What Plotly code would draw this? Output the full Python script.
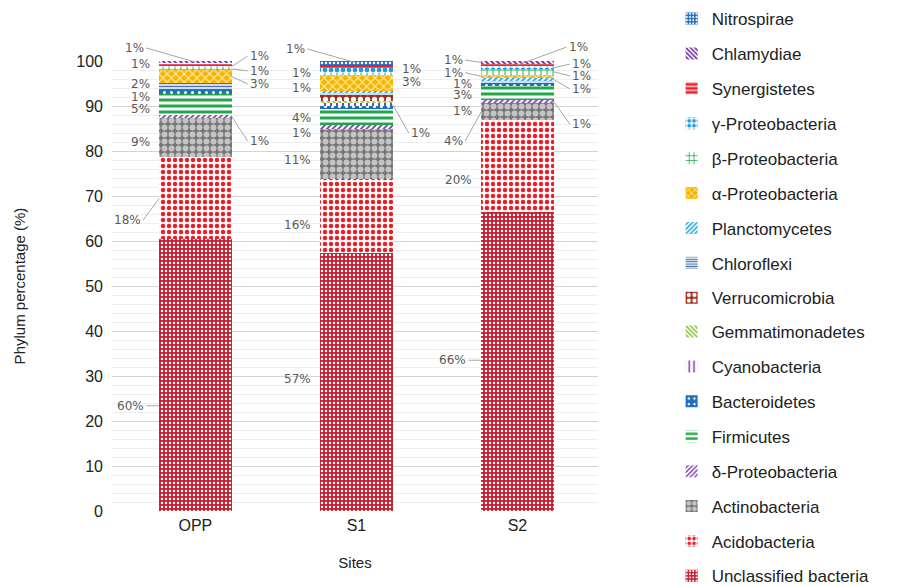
import math
import plotly.graph_objects as go

# ---------------- data (percent of reads per site) ----------------
SITES = ["OPP", "S1", "S2"]

UNCLASSIFIED = [60.4, 57.4, 66.4]
ACIDOBACTERIA = [18.2, 16.4, 20.4]
ACTINOBACTERIA = [8.8, 11.2, 3.8]
DELTA_PROTEO = [0.6, 0.7, 0.8]
FIRMICUTES = [4.6, 3.8, 3.1]
BACTEROIDETES = [1.0, 0.4, 0.6]
CYANOBACTERIA = [0.0, 0.9, 0.0]
GEMMATIMONADETES = [0.0, 0.4, 0.0]
VERRUCOMICROBIA = [0.0, 1.3, 0.0]
CHLOROFLEXI = [1.5, 0.45, 0.5]
PLANCTOMYCETES = [0.0, 0.45, 0.6]
ALPHA_PROTEO = [2.9, 3.4, 0.8]
BETA_PROTEO = [0.5, 0.45, 1.2]
GAMMA_PROTEO = [0.5, 1.1, 0.6]
SYNERGISTETES = [0.5, 0.8, 0.6]
CHLAMYDIAE = [0.5, 0.0, 0.6]
NITROSPIRAE = [0.0, 0.85, 0.0]

# stacking order, bottom -> top
PHYLA = [
    ("Unclassified bacteria", UNCLASSIFIED),
    ("Acidobacteria", ACIDOBACTERIA),
    ("Actinobacteria", ACTINOBACTERIA),
    ("δ-Proteobacteria", DELTA_PROTEO),
    ("Firmicutes", FIRMICUTES),
    ("Bacteroidetes", BACTEROIDETES),
    ("Cyanobacteria", CYANOBACTERIA),
    ("Gemmatimonadetes", GEMMATIMONADETES),
    ("Verrucomicrobia", VERRUCOMICROBIA),
    ("Chloroflexi", CHLOROFLEXI),
    ("Planctomycetes", PLANCTOMYCETES),
    ("α-Proteobacteria", ALPHA_PROTEO),
    ("β-Proteobacteria", BETA_PROTEO),
    ("γ-Proteobacteria", GAMMA_PROTEO),
    ("Synergistetes", SYNERGISTETES),
    ("Chlamydiae", CHLAMYDIAE),
    ("Nitrospirae", NITROSPIRAE),
]

# ---------------- styles ----------------
STYLE = {
    "Unclassified bacteria": dict(shape=".", bg="#c41a2b", fg="#ffffff", size=4, solidity=0.3),
    "Acidobacteria": dict(shape=".", bg="#ffffff", fg="#e8202a", size=6, solidity=0.45),
    "Actinobacteria": dict(shape=".", bg="#767676", fg="#c4c4c4", size=7, solidity=0.55),
    "δ-Proteobacteria": dict(shape="/", bg="#ffffff", fg="#7030a0", size=4, solidity=0.4),
    "Firmicutes": dict(shape="-", bg="#ffffff", fg="#1fa84a", size=6, solidity=0.5),
    "Bacteroidetes": dict(shape=".", bg="#1f6dbf", fg="#ffffff", size=7, solidity=0.15),
    "Cyanobacteria": dict(shape="|", bg="#ffffff", fg="#7030a0", size=6, solidity=0.3),
    "Gemmatimonadetes": dict(shape="\\", bg="#ffffff", fg="#8cc63f", size=4, solidity=0.5),
    "Verrucomicrobia": dict(shape=".", bg="#a52a1a", fg="#ffffff", size=7, solidity=0.45),
    "Chloroflexi": dict(shape="-", bg="#ffffff", fg="#4a6fa5", size=3, solidity=0.5),
    "Planctomycetes": dict(shape="/", bg="#ffffff", fg="#29abe2", size=4, solidity=0.5),
    "α-Proteobacteria": dict(shape="x", bg="#f7b500", fg="#fff2c2", size=6, solidity=0.3),
    "β-Proteobacteria": dict(shape="+", bg="#ffffff", fg="#1fa84a", size=6, solidity=0.3),
    "γ-Proteobacteria": dict(shape=".", bg="#ffffff", fg="#1b9de2", size=6, solidity=0.5),
    "Synergistetes": dict(shape="-", bg="#e8202a", fg="#ffffff", size=5, solidity=0.3),
    "Chlamydiae": dict(shape="\\", bg="#ffffff", fg="#7030a0", size=4, solidity=0.5),
    "Nitrospirae": dict(shape=".", bg="#1f6dbf", fg="#ffffff", size=4, solidity=0.3),
}

# label placement: (side, y of text in axis units, leader type)
LABEL_LAYOUT = {
    ("OPP", "Unclassified bacteria"): ("L", 23.4, "level"),
    ("OPP", "Acidobacteria"): ("L", 64.6, "mid"),
    ("OPP", "Actinobacteria"): ("L", 82.0, None),
    ("OPP", "δ-Proteobacteria"): ("R", 82.2, "mid"),
    ("OPP", "Firmicutes"): ("L", 89.4, None),
    ("OPP", "Bacteroidetes"): ("L", 92.1, None),
    ("OPP", "Chloroflexi"): ("L", 94.8, None),
    ("OPP", "α-Proteobacteria"): ("R", 94.9, "mid"),
    ("OPP", "β-Proteobacteria"): ("R", 97.8, "mid"),
    ("OPP", "γ-Proteobacteria"): ("R", 101.1, "mid"),
    ("OPP", "Synergistetes"): ("L", 99.3, None),
    ("OPP", "Chlamydiae"): ("L", 102.9, "top"),

    ("S1", "Unclassified bacteria"): ("L", 29.4, None),
    ("S1", "Acidobacteria"): ("L", 63.5, None),
    ("S1", "Actinobacteria"): ("L", 78.0, None),
    ("S1", "δ-Proteobacteria"): ("L", 84.0, None),
    ("S1", "Firmicutes"): ("L", 87.3, None),
    ("S1", "Cyanobacteria"): ("R", 84.0, "mid"),
    ("S1", "Verrucomicrobia"): ("L", 94.0, None),
    ("S1", "α-Proteobacteria"): ("R", 95.3, None),
    ("S1", "γ-Proteobacteria"): ("L", 97.3, None),
    ("S1", "Synergistetes"): ("R", 98.2, None),
    ("S1", "Nitrospirae"): ("L", 102.7, "top"),

    ("S2", "Unclassified bacteria"): ("L", 33.5, "level"),
    ("S2", "Acidobacteria"): ("L", 73.5, None),
    ("S2", "Actinobacteria"): ("L", 82.2, "mid"),
    ("S2", "δ-Proteobacteria"): ("R", 86.0, "mid"),
    ("S2", "Firmicutes"): ("L", 92.5, None),
    ("S2", "Bacteroidetes"): ("L", 94.9, None),
    ("S2", "Chloroflexi"): ("L", 89.0, None),
    ("S2", "Planctomycetes"): ("R", 93.8, "mid"),
    ("S2", "α-Proteobacteria"): ("L", 97.4, "mid"),
    ("S2", "β-Proteobacteria"): ("R", 96.7, "mid"),
    ("S2", "γ-Proteobacteria"): ("R", 99.3, "mid"),
    ("S2", "Synergistetes"): ("R", 103.1, "top"),
    ("S2", "Chlamydiae"): ("L", 100.2, "mid"),
}

BAR_GAP = 0.55
HALF = (1 - BAR_GAP) / 2
GAP_PLAIN = 0.045
GAP_LEADER = 0.10
LABEL_FONT = dict(family="DejaVu Sans", size=12, color="#595959")
LEADER_COLOR = "#a6a6a6"
LEGEND_SPLIT = 9  # first 9 legend entries in legend, rest in legend2

fig = go.Figure()
n = len(PHYLA)
for k, (name, vals) in enumerate(PHYLA):
    s = STYLE[name]
    rank = n - k  # 1 = Nitrospirae (top of legend)
    fig.add_trace(go.Bar(
        x=SITES, y=vals, name=name, legendgroup=name, legendrank=rank,
        legend="legend" if rank <= LEGEND_SPLIT else "legend2",
        marker=dict(
            color=s["bg"], line=dict(width=0),
            pattern=dict(shape=s["shape"], fgcolor=s["fg"], bgcolor=s["bg"],
                         size=s["size"], solidity=s["solidity"], fillmode="replace"),
        ),
    ))

annotations = []
base = [0.0] * len(SITES)
for name, vals in PHYLA:
    for i, site in enumerate(SITES):
        v = vals[i]
        lo = base[i]
        hi = lo + v
        base[i] = hi
        spec = LABEL_LAYOUT.get((site, name))
        if spec is None:
            continue
        side, ty, leader = spec
        sign = -1 if side == "L" else 1
        anchor = "right" if side == "L" else "left"
        text = f"{math.floor(v + 0.5)}%"
        edge = i + sign * HALF
        mid = (lo + hi) / 2
        if leader is None:
            annotations.append(dict(
                x=edge + sign * GAP_PLAIN, y=ty, xref="x", yref="y", text=text,
                showarrow=False, xanchor=anchor, yanchor="middle", font=LABEL_FONT))
        else:
            if leader == "level":
                hx, hy = edge, ty
                tx = edge + sign * 0.08
            elif leader == "top":
                hx, hy = i, mid
                tx = edge + sign * 0.08
            else:
                hx, hy = edge, mid
                tx = edge + sign * GAP_LEADER
            annotations.append(dict(
                x=hx, y=hy, xref="x", yref="y", ax=tx, ay=ty, axref="x", ayref="y",
                text=text, showarrow=True, arrowhead=0, arrowwidth=1,
                arrowcolor=LEADER_COLOR, standoff=0, startstandoff=0,
                xanchor=anchor, yanchor="middle", font=LABEL_FONT))

legend_common = dict(
    traceorder="grouped", tracegroupgap=9.8, maxheight=600,
    x=1.1515, xanchor="left", yanchor="top",
    font=dict(family="Liberation Sans, Arial, sans-serif", size=17, color="#222222"),
    bgcolor="rgba(0,0,0,0)",
)

fig.update_layout(
    width=909, height=586,
    margin=dict(l=104, r=319, t=53, b=83, autoexpand=False),
    paper_bgcolor="white", plot_bgcolor="white",
    barmode="stack", bargap=BAR_GAP,
    font=dict(family="Liberation Sans, Arial, sans-serif", color="#222222"),
    annotations=annotations,
    showlegend=True,
    legend=dict(legend_common, y=1.1333),
    legend2=dict(legend_common, y=0.4378),
)
fig.update_yaxes(
    range=[0, 100], dtick=10, tick0=0, automargin=False,
    showgrid=True, gridcolor="#d4d4d4", gridwidth=1.2,
    minor=dict(dtick=2, showgrid=True, gridcolor="#eeeeee", gridwidth=1),
    zeroline=False, showline=False, ticks="",
    tickfont=dict(size=16, color="#222222"),
    ticklabelstandoff=8,
    title=dict(text="Phylum percentage (%)", font=dict(size=15, color="#222222"), standoff=47),
)
fig.update_xaxes(
    showgrid=False, showline=False, ticks="", automargin=False,
    tickfont=dict(size=16, color="#222222"),
    ticklabelstandoff=3,
    title=dict(text="Sites", font=dict(size=15, color="#222222"), standoff=24),
)

fig.write_html("out.html")
